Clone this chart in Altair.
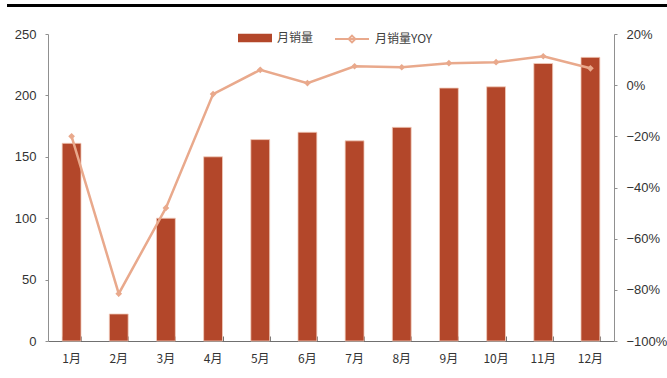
import altair as alt
import pandas as pd

months = ["1月", "2月", "3月", "4月", "5月", "6月", "7月", "8月", "9月", "10月", "11月", "12月"]
sales = [161, 22, 100, 150, 164, 170, 163, 174, 206, 207, 226, 231]
yoy = [-0.20, -0.815, -0.48, -0.035, 0.06, 0.008, 0.074, 0.07, 0.086, 0.09, 0.113, 0.066]

BAR = "#B3472A"
LINE = "#E9A98C"
FONT = "Liberation Sans"
CJK = "Noto Sans CJK SC"

df = pd.DataFrame({"month": months, "sales": sales, "yoy": yoy,
                   "s1": ["月销量"] * 12, "s2": ["月销量YOY"] * 12})

xscale = alt.Scale(domain=months, paddingInner=0.6, paddingOuter=0.3)

bars = alt.Chart(df).mark_bar(stroke="#F2CDBD", strokeWidth=0.8).encode(
    x=alt.X("month:N", sort=months, scale=xscale,
            axis=alt.Axis(title=None, labelAngle=0, labelFont=CJK, labelFontSize=12,
                          labelColor="#333333", labelPadding=12, ticks=False,
                          domainColor="#707070", domainWidth=1.2)),
    y=alt.Y("sales:Q", scale=alt.Scale(domain=[0, 250], nice=False),
            axis=alt.Axis(title=None, values=[0, 50, 100, 150, 200, 250], grid=False,
                          labelFont=FONT, labelFontSize=13, labelColor="#333333",
                          labelPadding=9, tickSize=3, tickColor="#909090",
                          domainColor="#909090")),
    fill=alt.Fill("s1:N", scale=alt.Scale(domain=["月销量"], range=[BAR]),
                  legend=alt.Legend(title=None, orient="none", legendX=190, legendY=-13,
                                    symbolType="M-1,-0.25H1V0.25H-1Z", symbolSize=1156,
                                    symbolStrokeWidth=0, labelFont=CJK, labelFontSize=12,
                                    labelColor="#404040", labelOffset=5, padding=0)),
)

line = alt.Chart(df).mark_line(strokeWidth=2.5).encode(
    x=alt.X("month:N", sort=months, scale=xscale,
            axis=alt.Axis(orient="top", offset=-307, labels=False, domain=False,
                          tickBand="extent", tickSize=5, tickColor="#707070", title=None)),
    y=alt.Y("yoy:Q", scale=alt.Scale(domain=[-1, 0.2], nice=False),
            axis=alt.Axis(title=None, orient="right", format=".0%",
                          values=[-1, -0.8, -0.6, -0.4, -0.2, 0, 0.2], grid=False,
                          labelFont=FONT, labelFontSize=13, labelColor="#333333",
                          labelPadding=9, tickSize=3, tickColor="#909090",
                          domainColor="#909090")),
    stroke=alt.Stroke("s2:N", scale=alt.Scale(domain=["月销量YOY"], range=[LINE]),
                      legend=alt.Legend(title=None, orient="none", legendX=286, legendY=-13,
                                        symbolType="M-1,0H1M0,-0.2L0.2,0L0,0.2L-0.2,0Z",
                                        symbolSize=1156, symbolStrokeWidth=2,
                                        labelFont=CJK, labelFontSize=12,
                                        labelColor="#404040", labelOffset=5, padding=0)),
)

pts = alt.Chart(df).mark_point(shape="diamond", filled=True, size=45, color=LINE, opacity=1).encode(
    x=alt.X("month:N", sort=months, scale=xscale),
    y=alt.Y("yoy:Q", scale=alt.Scale(domain=[-1, 0.2], nice=False)),
)

topline = alt.Chart(df).mark_rule(color="black", strokeWidth=2.5).encode(
    x=alt.value(-41), x2=alt.value(619), y=alt.value(-28.5))

right = alt.layer(line, pts)
chart = alt.layer(bars, right, topline).resolve_scale(
    x="independent", y="independent", fill="independent", stroke="independent"
).properties(
    width=566, height=307,
    autosize=alt.AutoSizeParams(type="none"),
    padding={"left": 48, "top": 34, "right": 53, "bottom": 37},
).configure_view(stroke=None)

chart.save("out.html", embed_options={"renderer": "svg", "actions": False})
